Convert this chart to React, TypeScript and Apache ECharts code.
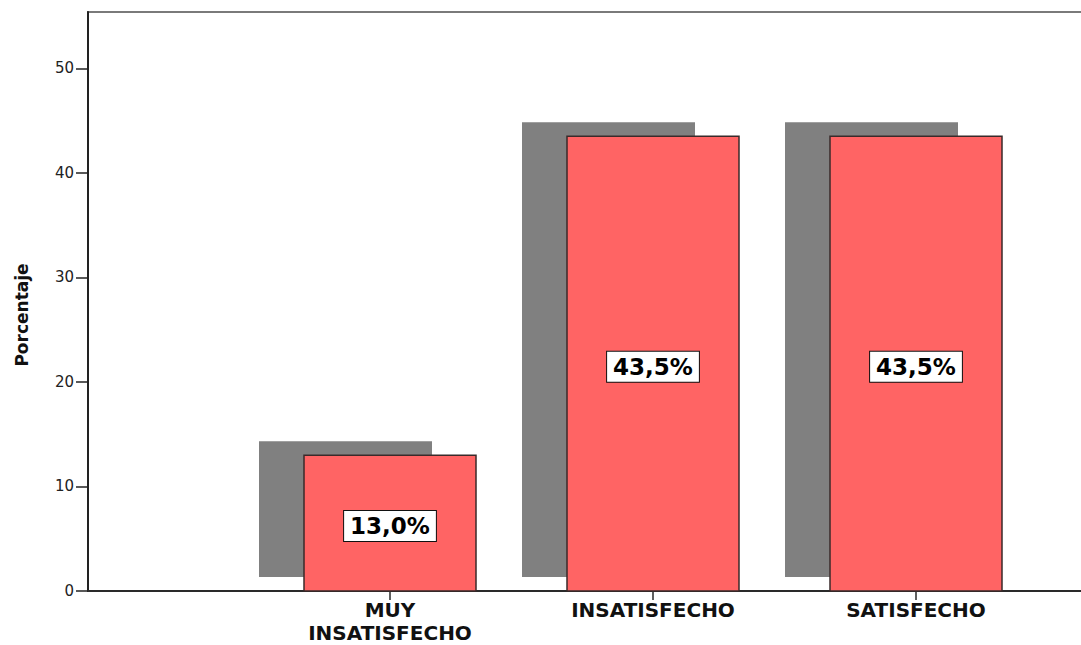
import React, { useEffect, useRef } from "react";
import * as echarts from "echarts";

// Satisfaction levels and the share of respondents in each (%)
const categories: string[] = ["MUY\nINSATISFECHO", "INSATISFECHO", "SATISFECHO"];
const percentages: number[] = [13.0, 43.5, 43.5];
const valueLabels: string[] = ["13,0%", "43,5%", "43,5%"];
const yTicks: number[] = [0, 10, 20, 30, 40, 50];

const FONT = "DejaVu Sans";
const BAR_WIDTH = 172;
const SHADOW_DX = -45;
const SHADOW_DY = -14;

export default function App() {
  const ref = useRef<HTMLDivElement>(null);

  useEffect(() => {
    if (!ref.current) return;
    const chart = echarts.init(ref.current, null, { renderer: "svg" });

    // bars sit at x = 1, 2, 3 on a numeric axis
    const positions = categories.map((_, i) => i + 1);
    const data = percentages.map((v, i) => [positions[i], v, i]);

    chart.setOption({
      animation: false,
      backgroundColor: "#ffffff",
      grid: {
        left: 88,
        right: -4,
        top: 12,
        bottom: 54,
        outerBoundsMode: "none",
        containLabel: false,
        show: true,
        borderColor: "#7a7a7a",
        borderWidth: 2,
        backgroundColor: "transparent",
      },
      xAxis: {
        type: "value",
        min: 1 - 302 / 263,
        max: 3 + 169 / 263,
        splitLine: { show: false },
        axisLine: { show: true, onZero: false, lineStyle: { color: "#2a2a2a", width: 2 } },
        axisTick: {
          show: true,
          length: 9,
          customValues: positions,
          lineStyle: { color: "#2a2a2a", width: 1.5 },
        },
        axisLabel: {
          customValues: positions,
          formatter: (v: number) => categories[Math.round(v) - 1] ?? "",
          fontFamily: FONT,
          fontWeight: "bold",
          fontSize: 20,
          lineHeight: 23.5,
          color: "#111",
          margin: 7,
        },
      },
      yAxis: {
        type: "value",
        min: 0,
        max: 55.4,
        interval: 10,
        splitLine: { show: false },
        axisLine: { show: true, onZero: false, lineStyle: { color: "#222", width: 2 } },
        axisTick: { show: true, length: 12, lineStyle: { color: "#222", width: 1.5 } },
        axisLabel: {
          showMaxLabel: false,
          formatter: (v: number) => (yTicks.includes(v) ? String(v) : ""),
          fontFamily: FONT,
          fontSize: 15,
          color: "#222",
          margin: 14,
        },
      },
      graphic: [
        {
          type: "text",
          x: 22,
          y: 315,
          rotation: Math.PI / 2,
          style: {
            text: "Porcentaje",
            fontFamily: FONT,
            fontWeight: "bold",
            fontSize: 17,
            fill: "#111",
            align: "center",
            verticalAlign: "middle",
          },
        },
      ],
      series: [
        {
          type: "custom",
          clip: false,
          data,
          renderItem: (params: any, api: any) => {
            const x = api.value(0);
            const v = api.value(1);
            const idx = api.value(2);
            const top = api.coord([x, v]);
            const base = api.coord([x, 0]);
            const h = base[1] - top[1];
            const left = top[0] - BAR_WIDTH / 2;
            return {
              type: "group",
              children: [
                {
                  type: "rect",
                  shape: { x: left + SHADOW_DX, y: top[1] + SHADOW_DY, width: BAR_WIDTH + 1, height: h },
                  style: { fill: "#808080" },
                },
                {
                  type: "rect",
                  shape: { x: left, y: top[1], width: BAR_WIDTH, height: h },
                  style: { fill: "#ff6464", stroke: "#3a2a2a", lineWidth: 1.5 },
                },
                {
                  type: "text",
                  x: top[0],
                  y: top[1] + h / 2 + 3,
                  style: {
                    text: valueLabels[idx],
                    fontFamily: FONT,
                    fontWeight: "bold",
                    fontSize: 23,
                    fill: "#000",
                    align: "center",
                    verticalAlign: "middle",
                    backgroundColor: "#ffffff",
                    borderColor: "#111",
                    borderWidth: 1,
                    padding: [4, 6, 3, 6],
                  },
                },
              ],
            };
          },
        },
      ],
    });

    return () => chart.dispose();
  }, []);

  return (
    <div
      ref={ref}
      style={{ position: "fixed", left: 0, top: 0, width: 1081, height: 645, background: "#fff" }}
    />
  );
}
